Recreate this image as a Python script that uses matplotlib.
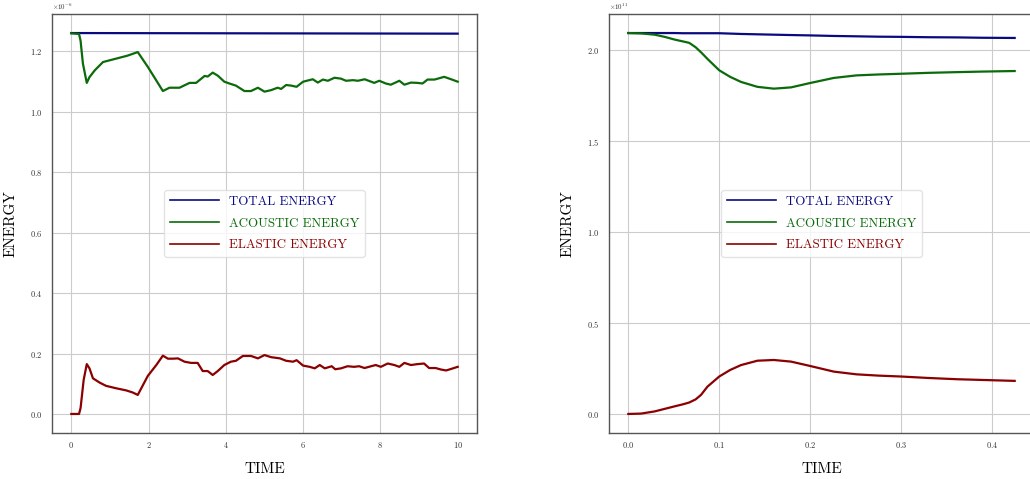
import numpy as np
import matplotlib
matplotlib.use("Agg")
import matplotlib.pyplot as plt

plt.rcParams['font.family'] = ['cmr10', 'DejaVu Serif']
plt.rcParams['mathtext.fontset'] = 'cm'
plt.rcParams['axes.formatter.use_mathtext'] = True

# --- left panel data (energy in units of 1e-6) ---
t_left = [0.0, 0.2, 0.24, 0.32, 0.40, 0.47, 0.56, 0.73, 0.90, 1.16, 1.42, 1.59, 1.72, 1.98,
          2.20, 2.37, 2.50, 2.63, 2.76, 2.93, 3.10, 3.27, 3.40, 3.53, 3.66, 3.79, 3.96, 4.13,
          4.26, 4.44, 4.65, 4.83, 5.00, 5.17, 5.40, 5.56, 5.74, 5.83, 6.00, 6.17, 6.30, 6.43,
          6.56, 6.74, 6.83, 6.98, 7.15, 7.32, 7.45, 7.59, 7.76, 7.88, 8.01, 8.19, 8.36, 8.49,
          8.62, 8.79, 8.96, 9.13, 9.26, 9.43, 9.57, 9.70, 9.83, 10.0]
elastic_left = [0.0, 0.0, 0.02, 0.113, 0.165, 0.151, 0.118, 0.104, 0.093, 0.085, 0.078, 0.071,
                0.063, 0.126, 0.162, 0.193, 0.183, 0.183, 0.184, 0.173, 0.169, 0.169, 0.142,
                0.142, 0.129, 0.142, 0.162, 0.173, 0.176, 0.192, 0.192, 0.184, 0.195, 0.188,
                0.184, 0.176, 0.173, 0.178, 0.160, 0.156, 0.151, 0.162, 0.151, 0.158, 0.148,
                0.151, 0.158, 0.156, 0.158, 0.152, 0.158, 0.162, 0.156, 0.167, 0.162, 0.156,
                0.169, 0.162, 0.165, 0.167, 0.152, 0.152, 0.147, 0.144, 0.149, 0.156]

t_ac_left = [0.0, 0.2, 0.24, 0.30, 0.40, 0.47, 0.61, 0.82, 1.15, 1.45, 1.72, 1.98, 2.37, 2.54,
             2.80, 3.06, 3.23, 3.45, 3.53, 3.66, 3.79, 3.96, 4.09, 4.26, 4.48, 4.65, 4.83,
             5.00, 5.17, 5.34, 5.43, 5.56, 5.69, 5.83, 6.00, 6.25, 6.38, 6.51, 6.64, 6.81,
             6.98, 7.11, 7.29, 7.42, 7.59, 7.76, 7.84, 7.97, 8.14, 8.27, 8.49, 8.62, 8.79,
             8.96, 9.09, 9.22, 9.40, 9.65, 9.83, 10.0]
acoustic_left = [1.26, 1.258, 1.235, 1.16, 1.096, 1.115, 1.138, 1.165, 1.176, 1.186, 1.198,
                 1.149, 1.069, 1.08, 1.08, 1.096, 1.096, 1.119, 1.117, 1.130, 1.12, 1.10,
                 1.094, 1.087, 1.069, 1.069, 1.08, 1.067, 1.072, 1.08, 1.076, 1.089, 1.087,
                 1.083, 1.10, 1.108, 1.097, 1.107, 1.103, 1.113, 1.11, 1.103, 1.105, 1.103,
                 1.108, 1.10, 1.096, 1.103, 1.094, 1.09, 1.103, 1.09, 1.097, 1.096, 1.094,
                 1.107, 1.107, 1.116, 1.108, 1.10]

t_tot_left = [0.0, 5.0, 10.0]
total_left = [1.261, 1.260, 1.259]

# --- right panel data (energy in units of 1e11) ---
t_right = [0.0, 0.014, 0.029, 0.040, 0.051, 0.060, 0.067, 0.074, 0.080, 0.087, 0.1, 0.112,
           0.124, 0.142, 0.160, 0.179, 0.2, 0.226, 0.251, 0.275, 0.3, 0.33, 0.362, 0.39, 0.425]
total_right = [2.096, 2.096, 2.096, 2.096, 2.096, 2.095, 2.095, 2.095, 2.095, 2.095, 2.095,
               2.093, 2.091, 2.089, 2.087, 2.085, 2.083, 2.080, 2.078, 2.076, 2.075, 2.073,
               2.072, 2.070, 2.069]
acoustic_right = [2.096, 2.094, 2.087, 2.075, 2.06, 2.05, 2.042, 2.018, 1.99, 1.954, 1.891,
                  1.855, 1.827, 1.80, 1.79, 1.797, 1.821, 1.849, 1.863, 1.868, 1.872, 1.877,
                  1.881, 1.884, 1.887]
elastic_right = [0.0, 0.002, 0.014, 0.028, 0.042, 0.053, 0.063, 0.08, 0.105, 0.15, 0.206, 0.242,
                 0.269, 0.293, 0.297, 0.288, 0.264, 0.233, 0.218, 0.211, 0.206, 0.198, 0.191,
                 0.187, 0.182]

c_total = '#0a0a80'
c_ac = '#0b6b0b'
c_el = '#8b0000'

fig = plt.figure(figsize=(10.30, 4.79), dpi=100)
ax1 = fig.add_axes([52 / 1030, 46 / 479, 425 / 1030, 419 / 479])
ax2 = fig.add_axes([609 / 1030, 46 / 479, 425 / 1030, 419 / 479])

ax1.plot(t_tot_left, np.array(total_left) * 1e-6, color=c_total, lw=1.6, label='TOTAL ENERGY')
ax1.plot(t_ac_left, np.array(acoustic_left) * 1e-6, color=c_ac, lw=1.6, label='ACOUSTIC ENERGY')
ax1.plot(t_left, np.array(elastic_left) * 1e-6, color=c_el, lw=1.6, label='ELASTIC ENERGY')

ax2.plot(t_right, np.array(total_right) * 1e11, color=c_total, lw=1.6, label='TOTAL ENERGY')
ax2.plot(t_right, np.array(acoustic_right) * 1e11, color=c_ac, lw=1.6, label='ACOUSTIC ENERGY')
ax2.plot(t_right, np.array(elastic_right) * 1e11, color=c_el, lw=1.6, label='ELASTIC ENERGY')

ax1.set_xticks([0, 2, 4, 6, 8, 10])
ax1.set_yticks(np.array([0.0, 0.2, 0.4, 0.6, 0.8, 1.0, 1.2]) * 1e-6)
ax2.set_xticks([0.0, 0.1, 0.2, 0.3, 0.4])
ax2.set_yticks(np.array([0.0, 0.5, 1.0, 1.5, 2.0]) * 1e11)

for ax in (ax1, ax2):
    ax.grid(True, color='#cccccc', lw=0.8)
    ax.set_axisbelow(True)
    ax.tick_params(length=0, labelsize=6, colors='#333333')
    ax.tick_params(axis='x', pad=5)
    ax.tick_params(axis='y', pad=7)
    ax.yaxis.get_offset_text().set_fontsize(5)
    for sp in ax.spines.values():
        sp.set_color('#555555')
        sp.set_linewidth(1.0)
    ax.set_xlabel('TIME', fontsize=11, labelpad=9)
    ax.set_ylabel('ENERGY', fontsize=11, labelpad=9)
    leg = ax.legend(loc='center', fontsize=9.3, handlelength=3.8, labelspacing=0.75,
                    frameon=True, fancybox=True, framealpha=0.8, edgecolor='#dddddd')
    for txt, line in zip(leg.get_texts(), leg.get_lines()):
        txt.set_color(line.get_color())
        line.set_linewidth(1.2)

fig.savefig('out.png', dpi=100)
